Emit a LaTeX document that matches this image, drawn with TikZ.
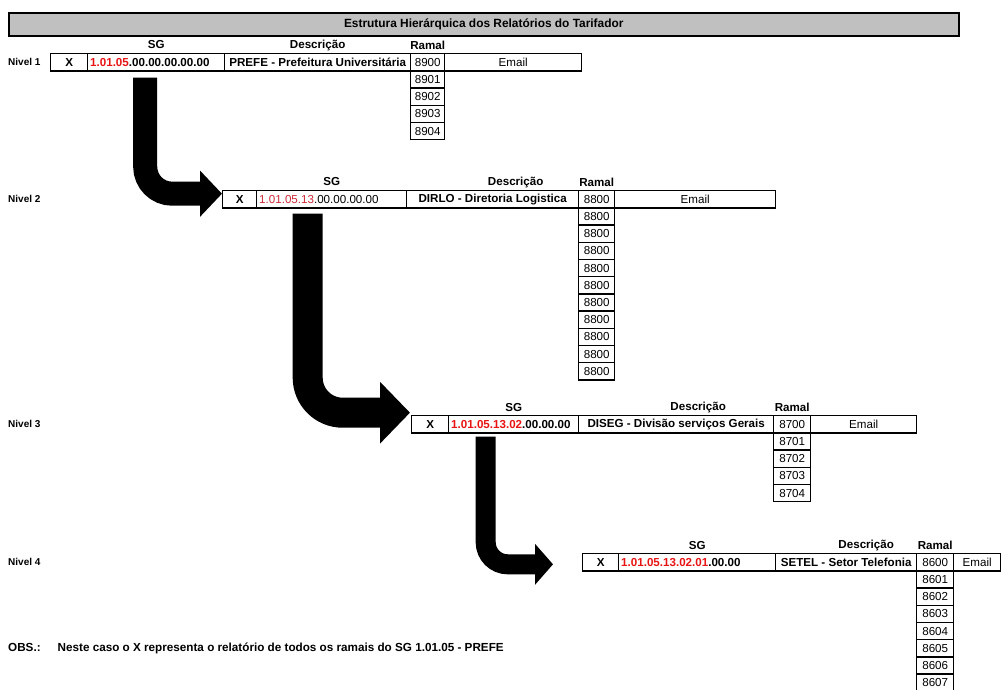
\documentclass[tikz,border=0pt]{standalone}
\usepackage{fontspec}
\setmainfont{Liberation Sans}
\usetikzlibrary{arrows.meta}
\definecolor{codered}{RGB}{232,20,20}
\definecolor{codeDark}{RGB}{205,40,55}
\definecolor{bargray}{RGB}{192,192,192}
\newcommand\cellrm{\fontsize{11.6}{13}\selectfont}
\newcommand\cellbf{\fontsize{11.6}{13}\selectfont\bfseries}
\begin{document}
\begin{tikzpicture}[x=1pt,y=-1pt,
  cell/.style={draw, line width=1.4pt, minimum height=17.2pt, inner sep=0pt,
               anchor=north west, font=\cellrm},
  cellL/.style={cell, text width=#1, align=left, inner xsep=2.5pt},
  hdr/.style={font=\cellbf, inner sep=0pt},
  nivel/.style={font=\fontsize{10}{12}\selectfont\bfseries, anchor=west, inner sep=0pt},
  titlebar/.style={draw, line width=1.5pt, fill=bargray, anchor=north west,
               minimum width=950pt, minimum height=23pt, inner sep=0pt,
               font=\fontsize{11.9}{13}\selectfont\bfseries},
  fat/.style={draw=black, rounded corners=#1}]
\useasboundingbox (0,0) rectangle (1002,689);
\clip (0,0) rectangle (1002,689);

% title
\node[titlebar] (tb) at (8,12) {Estrutura Hierárquica dos Relatórios do Tarifador};

% ---------- Nivel 1 ----------
\node[nivel] (nv1) at (8,61.6) {Nivel 1};
\node[cell, minimum width=37pt, font=\cellbf] (x1) at (50,53) {X};
\node[cellL=132pt, font=\cellbf] (sg1) at (87,53) {\textcolor{codered}{1.01.05}.00.00.00.00.00};
\node[cell, minimum width=186pt, font=\cellbf] (de1) at (224,53) {PREFE - Prefeitura Universitária};
\node[cell, minimum width=34pt] (ra1) at (410,53) {8900};
\node[cell, minimum width=137pt] (em1) at (444,53) {Email};
\foreach \n [count=\k] in {8901,8902,8903,8904}
  \node[cell, minimum width=34pt] (ra1-\k) at (410,{53+17.2*\k}) {\n};
\node[hdr] (h1sg) at ([yshift=8pt]sg1.north) {SG};
\node[hdr] (h1de) at ([yshift=8pt]de1.north) {Descrição};
\node[hdr] (h1ra) at ([yshift=8pt]ra1.north) {Ramal};

% ---------- Nivel 2 ----------
\node[nivel] (nv2) at (8,198.6) {Nivel 2};
\node[cell, minimum width=34pt, font=\cellbf] (x2) at (222,190) {X};
\node[cellL=145pt] (sg2) at (256,190) {\textcolor{codeDark}{1.01.05.13}.00.00.00.00};
\node[cell, minimum width=172pt, font=\cellbf] (de2) at (406,190) {DIRLO - Diretoria Logistica};
\node[cell, minimum width=36pt] (ra2) at (578,190) {8800};
\node[cell, minimum width=161pt] (em2) at (614,190) {Email};
\foreach \k in {1,...,10}
  \node[cell, minimum width=36pt] (ra2-\k) at (578,{190+17.2*\k}) {8800};
\node[hdr] (h2sg) at ([yshift=8pt]sg2.north) {SG};
\node[hdr] (h2de) at ([xshift=23pt,yshift=8pt]de2.north) {Descrição};
\node[hdr] (h2ra) at ([yshift=8pt]ra2.north) {Ramal};

% ---------- Nivel 3 ----------
\node[nivel] (nv3) at (8,423.6) {Nivel 3};
\node[cell, minimum width=37pt, font=\cellbf] (x3) at (411,415) {X};
\node[cellL=125pt, font=\cellbf] (sg3) at (448,415) {\textcolor{codered}{1.01.05.13.02}.00.00.00};
\node[cell, minimum width=195pt, font=\cellbf] (de3) at (578,415) {DISEG - Divisão serviços Gerais};
\node[cell, minimum width=37pt] (ra3) at (773,415) {8700};
\node[cell, minimum width=106pt] (em3) at (810,415) {Email};
\foreach \n [count=\k] in {8701,8702,8703,8704}
  \node[cell, minimum width=37pt] (ra3-\k) at (773,{415+17.2*\k}) {\n};
\node[hdr] (h3sg) at ([yshift=8pt]sg3.north) {SG};
\node[hdr] (h3de) at ([xshift=22pt,yshift=8pt]de3.north) {Descrição};
\node[hdr] (h3ra) at ([yshift=8pt]ra3.north) {Ramal};

% ---------- Nivel 4 ----------
\node[nivel] (nv4) at (8,561.6) {Nivel 4};
\node[cell, minimum width=36pt, font=\cellbf] (x4) at (582,553) {X};
\node[cellL=152pt, font=\cellbf] (sg4) at (618,553) {\textcolor{codered}{1.01.05.13.02.01}.00.00};
\node[cell, minimum width=141pt, font=\cellbf] (de4) at (775,553) {SETEL - Setor Telefonia};
\node[cell, minimum width=37pt] (ra4) at (916,553) {8600};
\node[cell, minimum width=47pt] (em4) at (953,553) {Email};
\foreach \n [count=\k] in {8601,8602,8603,8604,8605,8606,8607}
  \node[cell, minimum width=37pt] (ra4-\k) at (916,{553+17.2*\k}) {\n};
\node[hdr] (h4sg) at ([yshift=8pt]sg4.north) {SG};
\node[hdr] (h4de) at ([xshift=20pt,yshift=8pt]de4.north) {Descrição};
\node[hdr] (h4ra) at ([yshift=8pt]ra4.north) {Ramal};

% ---------- arrows ----------
\coordinate (a1s) at ([xshift=-11pt,yshift=-6pt]sg1.south);
\coordinate (a1e) at ([yshift=5.6pt]x2.west);
\draw[fat=27pt, line width=24pt, -{Triangle[length=22pt 0 0,width=45pt 0 0]}] (a1s) |- (a1e);

\coordinate (a2s) at ([xshift=-24pt,yshift=-5pt]sg2.south);
\coordinate (a2e) at ([xshift=-1pt,yshift=11.6pt]x3.west);
\draw[fat=35pt, line width=30pt, -{Triangle[length=30pt 0 0,width=60pt 0 0]}] (a2s) |- (a2e);

\coordinate (a3s) at ([xshift=-28pt,yshift=-3pt]sg3.south);
\coordinate (a3e) at ([xshift=-29pt,yshift=-2pt]x4.west);
\draw[fat=22pt, line width=20pt, -{Triangle[length=18pt 0 0,width=40pt 0 0]}] (a3s) |- (a3e);

% ---------- note ----------
\node[anchor=west, inner sep=0pt, font=\fontsize{11.7}{13}\selectfont\bfseries] (obs) at (8,648)
  {OBS.:\hspace{17pt}Neste caso o X representa o relatório de todos os ramais do SG 1.01.05 - PREFE};
\end{tikzpicture}
\end{document}
